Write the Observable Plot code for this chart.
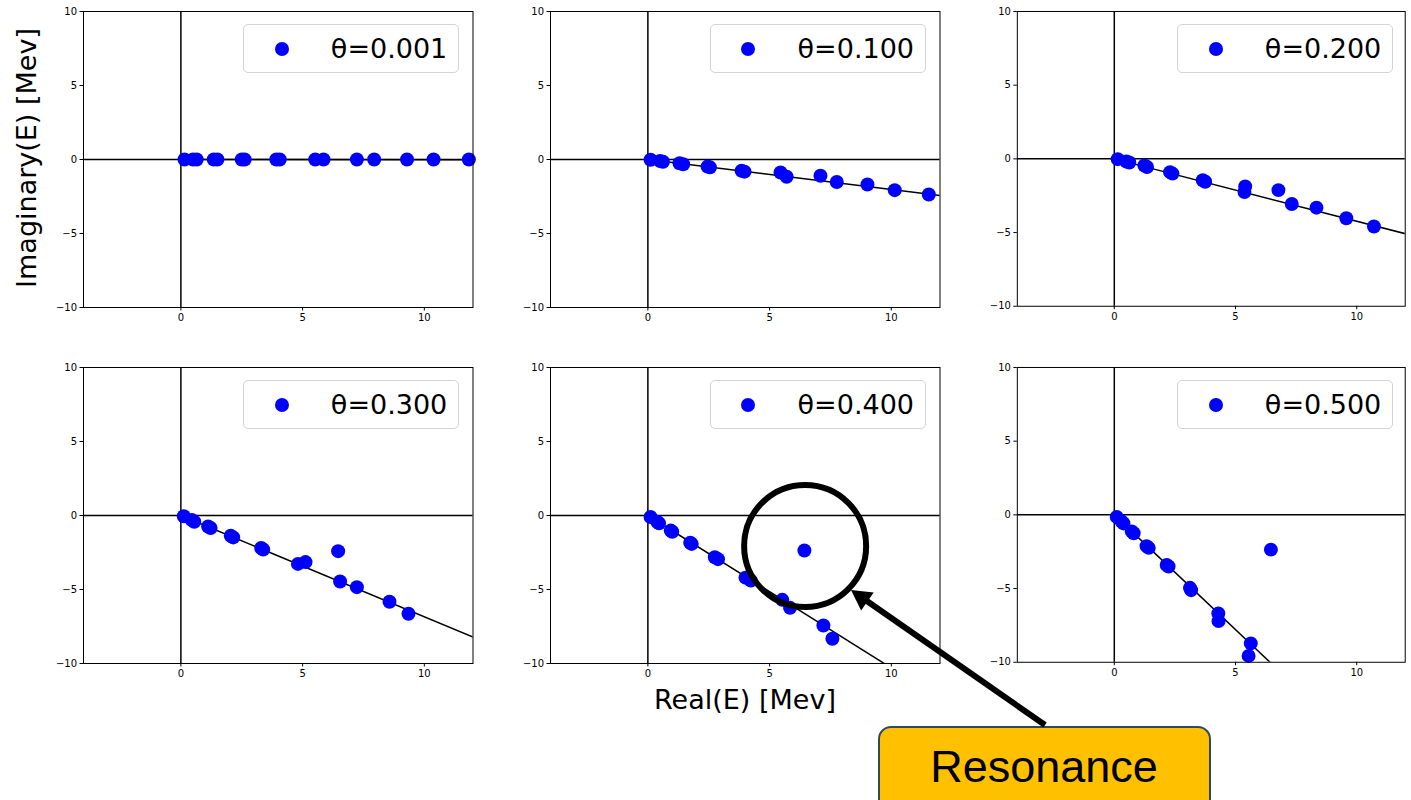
<!DOCTYPE html>
<html>
<head>
<meta charset="utf-8">
<script src="https://cdn.jsdelivr.net/npm/d3@7"></script>
<script src="https://cdn.jsdelivr.net/npm/@observablehq/plot@0.6"></script>
<style>
  body { margin: 0; background: #fff; font-family: "DejaVu Sans", sans-serif; }
  #fig { position: relative; width: 1411px; height: 800px; overflow: hidden; background: #fff; }
  .panel { position: absolute; }
  .panel svg { overflow: visible; background: transparent; }
  .legend { position: absolute; box-sizing: border-box; width: 216px; height: 48.4px;
            border: 1px solid #d4d4d4; border-radius: 5px; background: rgba(255,255,255,0.8); }
  .legend .swatch { position: absolute; left: 30.4px; top: 16.7px; width: 14px; height: 14px;
                    border-radius: 50%; background: #0000ff; }
  .legend .label { position: absolute; right: 11px; top: 10px; font-size: 27px; line-height: 27px;
                   color: #000; white-space: nowrap; }
  .callout { position: absolute; left: 878px; top: 726px; width: 333px; height: 110px; box-sizing: border-box;
             background: #ffc000; border: 2.5px solid #2e4a62; border-radius: 13px; }
  #overlay { position: absolute; left: 0; top: 0; pointer-events: none; }
</style>
</head>
<body>
<div id="fig"></div>
<script>
// Complex-scaling rotation angles, one panel each
const theta = [0.001, 0.100, 0.200, 0.300, 0.400, 0.500];
const thetaLabels = ["θ=0.001", "θ=0.100", "θ=0.200", "θ=0.300", "θ=0.400", "θ=0.500"];

// Slope of the rotated continuum line, Im(E) = slope * Re(E)
const continuumSlope = [-0.002, -0.203, -0.423, -0.684, -1.030, -1.557];

// Eigenvalues E = Re + i Im [MeV] for each rotation angle
const realE = [
  [0.15, 0.50, 0.65, 1.35, 1.50, 2.50, 2.62, 3.92, 4.06, 5.52, 5.86, 7.23, 7.94, 9.29, 10.38, 11.83],
  [0.11, 0.50, 0.62, 1.30, 1.45, 2.45, 2.55, 3.85, 3.97, 5.45, 5.70, 7.09, 7.76, 9.02, 10.14, 11.54],
  [0.14, 0.50, 0.62, 1.24, 1.35, 2.30, 2.40, 3.65, 3.75, 5.40, 5.37, 6.77, 7.32, 8.34, 9.57, 10.71],
  [0.12, 0.45, 0.55, 1.12, 1.22, 2.05, 2.15, 3.30, 3.38, 4.81, 5.12, 6.46, 6.54, 7.23, 8.57, 9.35],
  [0.11, 0.38, 0.46, 0.94, 1.00, 1.74, 1.80, 2.75, 2.88, 4.01, 4.23, 5.52, 5.84, 7.21, 7.58, 6.43],
  [0.10, 0.30, 0.38, 0.72, 0.80, 1.33, 1.42, 2.16, 2.24, 3.12, 3.17, 4.29, 4.30, 5.63, 5.54, 6.46]
];
const imagE = [
  [0, 0, 0, 0, 0, 0, 0, 0, 0, 0, 0, 0, 0, 0, 0, 0],
  [-0.02, -0.10, -0.15, -0.25, -0.32, -0.48, -0.53, -0.76, -0.82, -0.88, -1.17, -1.10, -1.52, -1.69, -2.07, -2.36],
  [-0.02, -0.18, -0.25, -0.45, -0.55, -0.90, -1.00, -1.45, -1.55, -1.87, -2.25, -2.12, -3.06, -3.31, -4.03, -4.59],
  [-0.05, -0.30, -0.42, -0.74, -0.84, -1.37, -1.48, -2.20, -2.30, -3.27, -3.15, -2.41, -4.46, -4.84, -5.83, -6.64],
  [-0.10, -0.42, -0.53, -1.02, -1.10, -1.84, -1.92, -2.82, -2.95, -4.20, -4.40, -5.70, -6.24, -7.43, -8.33, -2.36],
  [-0.14, -0.45, -0.58, -1.12, -1.25, -2.12, -2.24, -3.40, -3.50, -4.95, -5.11, -6.69, -7.21, -8.72, -9.57, -2.36]
];

// Axis settings
const xDomain = [-4, 12];
const yDomain = [-10, 10];
const xTicks = [0, 5, 10];
const yTicks = [-10, -5, 0, 5, 10];

// Resonance highlighted in the θ=0.400 panel
const resonancePanel = 4;
const resonanceRing = [{re: 6.46, im: -2.06}];

// Page layout of the 2×3 grid (plot-frame corners, px)
const colLeft = [83.3, 550, 1017.3];
const rowTop = [10.7, 366.7];
const frameW = 389.5, frameH = 296;
const mL = 46, mR = 6, mT = 6, mB = 30;

const fig = document.getElementById("fig");

theta.forEach((t, i) => {
  const col = i % 3, row = Math.floor(i / 3);
  const pts = realE[i].map((re, k) => ({re, im: imagE[i][k]}));
  const line = [{re: 0, im: 0}, {re: xDomain[1], im: continuumSlope[i] * xDomain[1]}];

  const marks = [
    Plot.ruleX([0], {stroke: "black", strokeWidth: 1.5}),
    Plot.ruleY([0], {stroke: "black", strokeWidth: 1.5}),
    Plot.line(line, {x: "re", y: "im", stroke: "black", strokeWidth: 1.5, clip: true}),
    Plot.dot(pts, {x: "re", y: "im", r: 7, fill: "#0000ff", stroke: "none"}),
    Plot.frame({stroke: "black", strokeWidth: 1}),
    Plot.axisX({ticks: xTicks, tickSize: 3.5, tickPadding: 3, fontSize: 10, label: null}),
    Plot.axisY({ticks: yTicks, tickSize: 3.5, tickPadding: 3, fontSize: 10, label: null})
  ];
  if (i === resonancePanel) {
    marks.push(Plot.dot(resonanceRing, {x: "re", y: "im", r: 61, fill: "none", stroke: "black", strokeWidth: 6}));
  }

  const chart = Plot.plot({
    width: mL + frameW + mR,
    height: mT + frameH + mB,
    marginLeft: mL, marginRight: mR, marginTop: mT, marginBottom: mB,
    x: {domain: xDomain},
    y: {domain: yDomain},
    style: {fontFamily: "DejaVu Sans", fontSize: "10px", color: "black", background: "transparent", overflow: "visible"},
    marks
  });

  const holder = document.createElement("div");
  holder.className = "panel";
  holder.style.left = (colLeft[col] - mL) + "px";
  holder.style.top = (rowTop[row] - mT) + "px";
  holder.appendChild(chart);
  fig.appendChild(holder);

  const legend = document.createElement("div");
  legend.className = "legend";
  legend.style.left = (colLeft[col] + 160) + "px";
  legend.style.top = (rowTop[row] + 13.6) + "px";
  legend.innerHTML = `<div class="swatch"></div><div class="label">${thetaLabels[i]}</div>`;
  fig.appendChild(legend);
});

// Call-out box naming the resonance
const callout = document.createElement("div");
callout.className = "callout";
fig.appendChild(callout);

// Shared axis titles, call-out text and arrow
const svg = d3.select(fig).append("svg")
  .attr("id", "overlay").attr("width", 1411).attr("height", 800);

svg.append("text")
  .attr("transform", "translate(35.7,158) rotate(-90)")
  .attr("text-anchor", "middle")
  .attr("font-family", "DejaVu Sans").attr("font-size", 27)
  .text("Imaginary(E) [Mev]");

svg.append("text")
  .attr("x", 745).attr("y", 709)
  .attr("text-anchor", "middle")
  .attr("font-family", "DejaVu Sans").attr("font-size", 27)
  .text("Real(E) [Mev]");

svg.append("text")
  .attr("x", 1044).attr("y", 781.5)
  .attr("text-anchor", "middle")
  .attr("font-family", "Liberation Sans").attr("font-size", 45)
  .text("Resonance");

const tail = [1045, 725], tip = [851, 590];
const dx = tip[0] - tail[0], dy = tip[1] - tail[1];
const len = Math.hypot(dx, dy), ux = dx / len, uy = dy / len;
const headLen = 20, headHalf = 11;
const base = [tip[0] - ux * headLen, tip[1] - uy * headLen];
svg.append("line")
  .attr("x1", tail[0]).attr("y1", tail[1])
  .attr("x2", base[0] + ux * 2).attr("y2", base[1] + uy * 2)
  .attr("stroke", "black").attr("stroke-width", 6);
svg.append("polygon")
  .attr("points", [
    tip,
    [base[0] - uy * headHalf, base[1] + ux * headHalf],
    [base[0] + uy * headHalf, base[1] - ux * headHalf]
  ].map(p => p.join(",")).join(" "))
  .attr("fill", "black");
</script>
</body>
</html>
